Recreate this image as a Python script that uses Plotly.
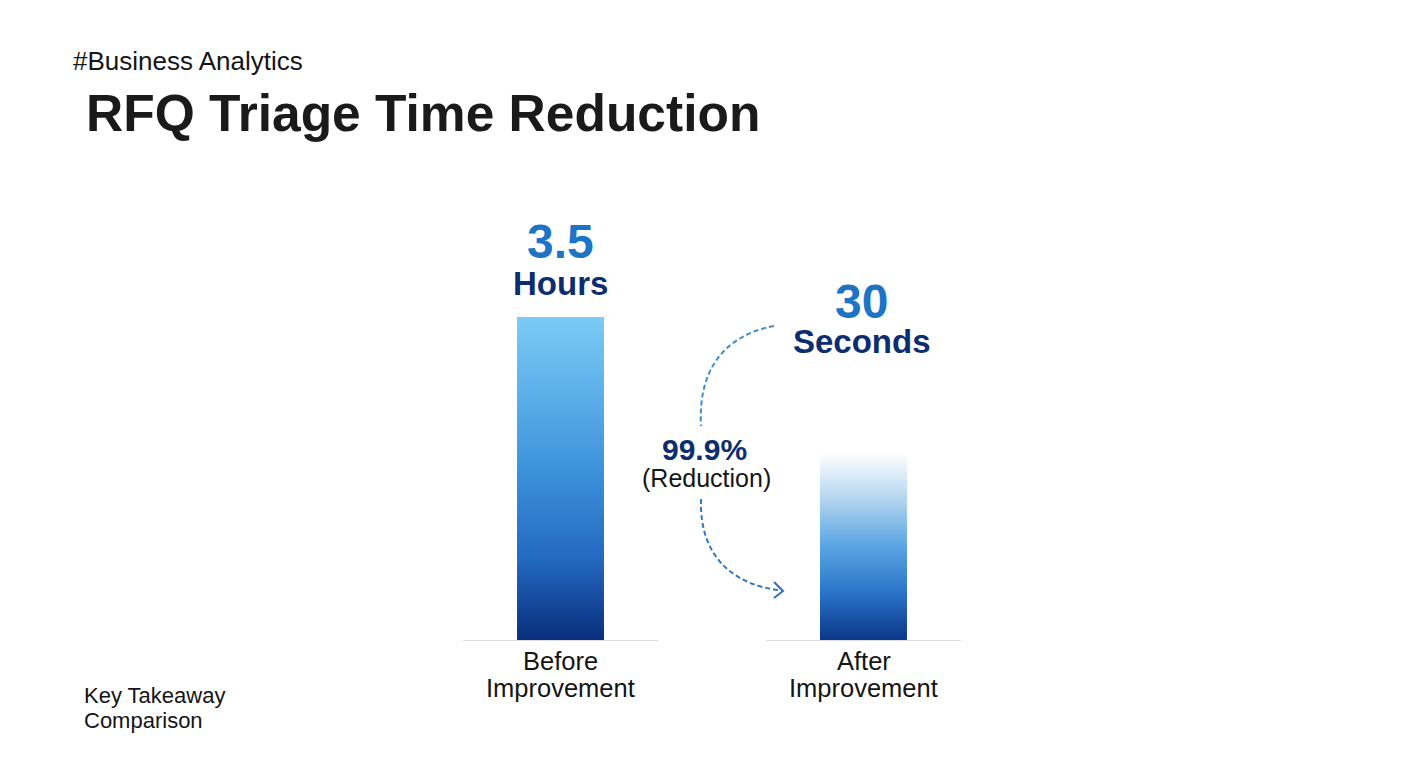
import plotly.graph_objects as go

# ---- data ----
category_lines = [["Before", "Improvement"], ["After", "Improvement"]]
bar_heights = [100, 58]          # relative drawn heights
value_labels = ["3.5", "30"]
unit_labels = ["Hours", "Seconds"]
reduction_value = "99.9%"
reduction_text = "(Reduction)"
gradients = [
    [[0.0, "#0a2e7c"], [0.25, "#2369c0"], [0.5, "#3a8ed8"], [0.75, "#5aaee8"], [1.0, "#7bcbf6"]],
    [[0.0, "#0b378a"], [0.25, "#2a74c8"], [0.5, "#5aa5e2"], [0.78, "#bcdaf2"], [1.0, "#ffffff"]],
]

W, H = 1408, 768
def px(x): return x / W
def py(y): return (H - y) / H

BASE_Y = 640
TOP_Y = 317  # pixel for value 100
YMAX = 110
ytop_px = BASE_Y - (BASE_Y - TOP_Y) * YMAX / 100.0

fig = go.Figure()
half_w = 0.223
axes = [("x", "y"), ("x2", "y2")]
for i, h in enumerate(bar_heights):
    xa, ya = axes[i]
    fig.add_trace(go.Scatter(
        x=[-half_w, half_w, half_w, -half_w, -half_w],
        y=[0, 0, h, h, 0],
        mode="lines", line=dict(width=0),
        fill="toself",
        fillgradient=dict(type="vertical", colorscale=gradients[i], start=0, stop=h),
        xaxis=xa, yaxis=ya, hoverinfo="skip", showlegend=False,
    ))

xdom = [[px(463), px(658)], [px(766), px(961)]]
ydom = [py(BASE_Y), py(ytop_px)]
axis_common = dict(range=[-0.5, 0.5], showgrid=False, zeroline=False, showline=True,
                   linecolor="#dcdcdc", linewidth=1.2, ticks="", showticklabels=False,
                   fixedrange=True)
fig.update_layout(
    xaxis=dict(domain=xdom[0], anchor="y", **axis_common),
    xaxis2=dict(domain=xdom[1], anchor="y2", **axis_common),
    yaxis=dict(domain=ydom, range=[0, YMAX], visible=False, fixedrange=True),
    yaxis2=dict(domain=ydom, range=[0, YMAX], visible=False, fixedrange=True),
)

ann = []
font_b = "Liberation Sans, Arial"
# titles
ann.append(dict(text="#Business Analytics", x=px(71), y=py(61), xref="paper", yref="paper",
                xanchor="left", yanchor="middle", showarrow=False,
                font=dict(family=font_b, size=26, color="#151515")))
ann.append(dict(text="<b>RFQ Triage Time Reduction</b>", x=px(84), y=py(113), xref="paper", yref="paper",
                xanchor="left", yanchor="middle", showarrow=False,
                font=dict(family=font_b, size=51.5, color="#1a1a1a")))
for j, (t, yy) in enumerate([("Key Takeaway", 695), ("Comparison", 720)]):
    ann.append(dict(text=t, x=px(82), y=py(yy), xref="paper", yref="paper",
                    xanchor="left", yanchor="middle", showarrow=False,
                    font=dict(family=font_b, size=22, color="#151515")))
# category labels
for i in range(2):
    xa = "x" if i == 0 else "x2"
    for t, yy in zip(category_lines[i], [661, 688]):
        ann.append(dict(text=t, x=0, y=py(yy), xref=xa, yref="paper",
                        xanchor="center", yanchor="middle", showarrow=False,
                        font=dict(family=font_b, size=25.5, color="#151515")))
# value labels
val_y = [241, 301]
unit_y = [283, 341]
xshift = [0, -2]
for i in range(2):
    xa = "x" if i == 0 else "x2"
    ann.append(dict(text=f"<b>{value_labels[i]}</b>", x=0, y=py(val_y[i]), xref=xa, yref="paper",
                    xanchor="center", yanchor="middle", showarrow=False, xshift=xshift[i],
                    font=dict(family=font_b, size=48, color="#1e74c4")))
    ann.append(dict(text=f"<b>{unit_labels[i]}</b>", x=0, y=py(unit_y[i]), xref=xa, yref="paper",
                    xanchor="center", yanchor="middle", showarrow=False, xshift=xshift[i],
                    font=dict(family=font_b, size=33, color="#0c2d6e")))
# reduction labels
ann.append(dict(text=f"<b>{reduction_value}</b>", x=px(704.5), y=py(449), xref="paper", yref="paper",
                xanchor="center", yanchor="middle", showarrow=False,
                font=dict(family=font_b, size=30, color="#0c2d6e")))
ann.append(dict(text=reduction_text, x=px(706.5), y=py(478), xref="paper", yref="paper",
                xanchor="center", yanchor="middle", showarrow=False,
                font=dict(family=font_b, size=25, color="#151515")))

def path(pts_cmd):
    out = []
    for tok in pts_cmd:
        if isinstance(tok, str):
            out.append(tok)
        else:
            out.append(f"{px(tok[0]):.5f},{py(tok[1]):.5f}")
    return " ".join(out)

shapes = [
    dict(type="path", xref="paper", yref="paper",
         path=path(["M", (774, 326), "C", (722, 336), (698, 372), (701, 426)]),
         line=dict(color="#3d8fd0", width=2, dash="5px,3px")),
    dict(type="path", xref="paper", yref="paper",
         path=path(["M", (701, 499), "C", (699, 558), (735, 585), (779, 590)]),
         line=dict(color="#2f78c0", width=2, dash="5px,3px")),
    dict(type="path", xref="paper", yref="paper",
         path=path(["M", (774, 582), "L", (783, 591), "L", (774, 598)]),
         line=dict(color="#2a6fb8", width=2)),
]

fig.update_layout(
    width=W, height=H, margin=dict(l=0, r=0, t=0, b=0),
    paper_bgcolor="white", plot_bgcolor="white",
    annotations=ann, shapes=shapes, showlegend=False,
)
fig.write_html("out.html")
